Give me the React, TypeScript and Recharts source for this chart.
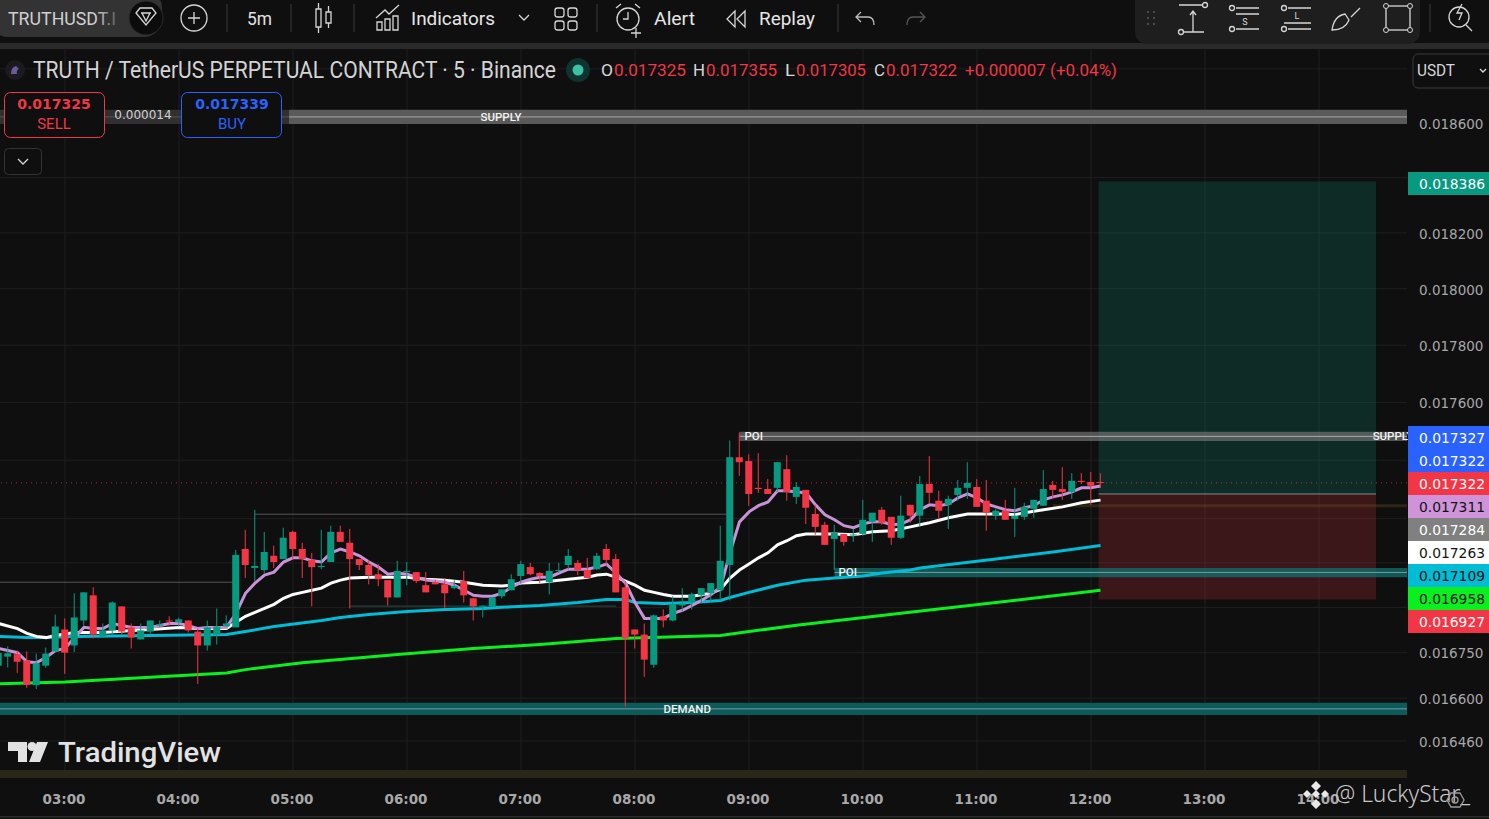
import React from "react";
import {
  ComposedChart, Bar, Line, XAxis, YAxis, CartesianGrid,
  ReferenceArea, ReferenceLine, ReferenceDot,
} from "recharts";

// All candle and average values are in millionths of a USDT.
const opens = [
  16707,16737,16745,16724,16643,16707,16754,
  16827,16774,16857,16941,16804,16824,16904,16834,16794,16820,
  16840,16857,16851,16857,16820,16774,16810,16837,16834,17097,
  17033,17026,17074,17063,17155,17097,17060,17036,17053,17155,
  17118,17063,17043,17012,16992,16934,17019,17019,16975,16985,
  16978,16965,16989,16931,16904,16904,16938,16958,17006,17036,
  17016,16985,17023,17043,17050,17026,17029,17097,17063,16968,
  16827,16810,16710,16871,16857,16907,16917,16941,16948,16958,
  17043,17410,17397,17305,17301,17305,17369,17274,17298,17216,
  17179,17131,17148,17144,17148,17189,17230,17206,17135,17247,
  17210,17318,17261,17247,17281,17305,17308,17261,17210,17227,
  17199,17206,17233,17244,17315,17301,17291,17329,17325,17325,
];
const highs = [
  16757,16771,16757,16754,16747,16767,16877,
  16864,16948,16951,16968,16847,16921,16904,16847,16847,16857,
  16857,16871,16867,16857,16830,16857,16897,16874,17094,17162,
  17230,17155,17108,17169,17159,17118,17084,17162,17176,17176,
  17165,17063,17060,17046,16992,17057,17053,17019,17019,16992,
  16999,16992,17023,16931,16907,16934,16961,17012,17057,17050,
  17019,17050,17050,17097,17060,17067,17084,17114,17080,16989,
  16827,16847,16877,16894,16938,16965,16951,16965,16982,17176,
  17468,17495,17420,17424,17335,17393,17417,17325,17298,17247,
  17189,17179,17148,17165,17264,17220,17240,17206,17278,17247,
  17346,17414,17295,17278,17332,17393,17335,17332,17233,17264,
  17305,17254,17264,17366,17329,17376,17356,17356,17359,17355,
];
const lows = [
  16704,16701,16683,16634,16630,16700,16752,
  16680,16752,16840,16797,16800,16810,16810,16764,16794,16810,
  16834,16840,16837,16817,16647,16757,16777,16837,16834,16999,
  16989,17016,17033,17063,17060,16999,16904,17029,17053,17121,
  16897,17026,16978,16972,16907,16934,16975,16982,16951,16978,
  16897,16961,16917,16857,16867,16904,16931,16958,16982,17009,
  16982,16944,17016,17029,17009,16999,17026,17040,16951,16573,
  16764,16670,16700,16834,16854,16887,16894,16914,16917,16924,
  16924,17346,17244,17288,17284,17291,17261,17250,17182,17145,
  17111,17026,17108,17121,17142,17121,17179,17111,17131,17186,
  17172,17250,17199,17165,17261,17267,17240,17159,17196,17196,
  17138,17196,17203,17244,17267,17264,17267,17318,17247,17305,
];
const closes = [
  16749,16748,16720,16643,16715,16747,16837,
  16750,16867,16951,16810,16824,16917,16820,16800,16824,16857,
  16844,16854,16861,16824,16774,16834,16837,16847,17077,17043,
  17040,17087,17053,17135,17097,17063,17036,17040,17155,17121,
  17063,17043,17009,16995,16934,17023,17023,16989,16951,16978,
  16948,16972,16941,16904,16906,16934,16961,16995,17046,17012,
  17006,17023,17026,17074,17026,16999,17074,17060,16951,16797,
  16810,16727,16874,16857,16911,16914,16944,16965,16982,17057,
  17410,17393,17284,17301,17284,17393,17291,17308,17237,17172,
  17111,17152,17121,17146,17196,17220,17186,17135,17210,17210,
  17318,17288,17227,17267,17305,17322,17240,17220,17227,17196,
  17210,17240,17264,17301,17298,17291,17329,17325,17312,17322,
];
const purpleValues = [
  16764,16757,16750,16720,16717,16734,16757,
  16764,16800,16834,16830,16830,16847,16840,16834,16834,16834,
  16840,16847,16847,16840,16830,16834,16834,16834,16881,16948,
  16982,17009,17019,17053,17067,17067,17057,17053,17084,17097,
  17087,17074,17053,17036,17012,17016,17012,17002,16992,16989,
  16985,16975,16958,16941,16938,16938,16948,16968,16985,16995,
  17002,17002,17016,17029,17029,17029,17036,17046,17016,16982,
  16917,16864,16864,16864,16881,16891,16907,16924,16944,16968,
  17084,17189,17223,17244,17257,17295,17295,17291,17288,17247,
  17213,17196,17176,17169,17182,17189,17189,17179,17182,17196,
  17230,17247,17244,17250,17271,17284,17271,17250,17240,17230,
  17227,17237,17244,17264,17274,17281,17291,17305,17305,17311,
];
const whiteBars = [-7,-5,-4,-3,-2,-1,1,4,7,9,12,14,17,18,19,20,21,22,23,24,25,26,27,28,29,30,32,34,36,38,40,42,44,46,47,48,50,52,53,55,56,57,58,59,60,61,62,63,64,66,68,69,70,71,72,73,74,75,76,77,78,79,81,83,85,87,89,90,91,93,95,97,99,100,101,103,105,107,109];
const whiteValues = [16847,16830,16814,16804,16800,16807,16817,16817,16824,16827,16834,16830,16830,16851,16871,16884,16897,16911,16931,16944,16951,16958,16965,16982,16992,16999,17002,17002,17002,16995,16992,16985,16975,16972,16975,16982,16985,16992,16995,17002,17009,17012,17002,16989,16975,16958,16951,16944,16938,16938,16948,16961,16999,17026,17046,17067,17084,17111,17125,17142,17148,17148,17148,17145,17155,17159,17172,17179,17186,17203,17216,17216,17216,17213,17220,17230,17240,17254,17263];
const blueBars = [-7,-4,-2,1,9,17,19,22,27,29,32,36,40,44,46,50,54,57,59,60,63,66,69,70,72,75,78,81,84,86,89,90,98,104,109];
const blueValues = [16804,16800,16800,16804,16807,16810,16820,16837,16857,16867,16877,16887,16894,16897,16901,16907,16917,16927,16927,16917,16914,16917,16924,16934,16951,16975,16992,16999,17006,17016,17026,17033,17063,17087,17109];
const greenBars = [-7,0,17,19,25,35,43,50,58,69,72,77,88,98,109];
const greenValues = [16647,16653,16683,16694,16717,16744,16764,16777,16797,16807,16820,16841,16881,16917,16958];

const firstBar = -7;
const timeTickBars = [0,12,24,36,48,60,72,84,96,108,120,132];
const timeLabels = ["03:00","04:00","05:00","06:00","07:00","08:00","09:00","10:00","11:00","12:00","13:00","14:00"];
const priceTicks = [0.0188,0.0186,0.0184,0.0182,0.018,0.0178,0.0176,0.0174,0.0172,0.01705,0.0169,0.01675,0.0166,0.01646];
const visiblePriceLabels = [0.0186,0.0182,0.018,0.0178,0.0176,0.01675,0.0166,0.01646];

const pick = (bars: number[], values: number[], n: number) => {
  const i = bars.indexOf(n);
  return i < 0 ? null : values[i] / 1e6;
};
const table = opens.map((o, i) => {
  const n = firstBar + i;
  return {
    n,
    open: o / 1e6,
    high: highs[i] / 1e6,
    low: lows[i] / 1e6,
    close: closes[i] / 1e6,
    purple: purpleValues[i] / 1e6,
    white: pick(whiteBars, whiteValues, n),
    blue: pick(blueBars, blueValues, n),
    green: pick(greenBars, greenValues, n),
  };
});

const UP = "#089981";
const DOWN = "#f23645";
const BG = "#0f0f0f";
const TICK_FONT = "'DejaVu Sans', sans-serif";
const UI_FONT = "Roboto, sans-serif";

const Candle = (p: any) => {
  const { x, y, width, height, payload } = p;
  if (!payload) return null;
  const top = Math.min(y, y + height);
  const h = Math.abs(height);
  const span = Math.log(payload.high / payload.low);
  const yOf = (v: number) => top + (h * Math.log(payload.high / v)) / span;
  const color = payload.close >= payload.open ? UP : DOWN;
  const bodyTop = yOf(Math.max(payload.open, payload.close));
  const bodyBottom = yOf(Math.min(payload.open, payload.close));
  const cx = x + width / 2;
  return (
    <g>
      <rect x={cx - 0.5} y={top} width={1} height={h} fill={color} />
      <rect x={cx - 3.5} y={bodyTop} width={7} height={Math.max(1, bodyBottom - bodyTop)} fill={color} />
    </g>
  );
};

const zoneLabel = (value: string) => ({
  value,
  position: "center" as const,
  fill: "#f2f2f2",
  fontSize: 11.5,
  fontFamily: UI_FONT,
  fontWeight: 500,
});

const Txt = (p: any) => {
  const { x, y, w, size = 18, fill = "#d8d8d8", weight = 400, font = UI_FONT, anchor = "start", children } = p;
  return (
    <text x={x} y={y} fontSize={size} fill={fill} fontWeight={weight} fontFamily={font} textAnchor={anchor}
      textLength={w} lengthAdjust={w ? "spacingAndGlyphs" : undefined}>
      {children}
    </text>
  );
};

const priceLabels = [
  { y: 426, text: "0.017327", bg: "#2962ff", fg: "#ffffff" },
  { y: 449, text: "0.017322", bg: "#2962ff", fg: "#ffffff" },
  { y: 472, text: "0.017322", bg: "#f23645", fg: "#ffffff" },
  { y: 495, text: "0.017311", bg: "#ce93d8", fg: "#131313" },
  { y: 518, text: "0.017284", bg: "#808080", fg: "#ffffff" },
  { y: 541, text: "0.017263", bg: "#ffffff", fg: "#131313" },
  { y: 564, text: "0.017109", bg: "#00bcd4", fg: "#131313" },
  { y: 587, text: "0.016958", bg: "#0af01e", fg: "#131313" },
  { y: 610, text: "0.016927", bg: "#f23645", fg: "#ffffff" },
  { y: 172, text: "0.018386", bg: "#089981", fg: "#ffffff" },
];

const S = { fill: "none", stroke: "#d6d6d6", strokeWidth: 1.3 };

const Overlay = () => (
  <svg width={1489} height={819} style={{ position: "absolute", left: 0, top: 0, pointerEvents: "none" }}>
    <defs>
      <linearGradient id="pillFade" x1="0" x2="1" y1="0" y2="0">
        <stop offset="0" stopColor="#333333" stopOpacity={0} />
        <stop offset="1" stopColor="#333333" stopOpacity={1} />
      </linearGradient>
    </defs>
    {/* toolbar */}
    <rect x={0} y={0} width={1489} height={43} fill={BG} />
    <rect x={0} y={43} width={1489} height={6} fill="#2a2a2a" />
    <rect x={-10} y={-10} width={172} height={47} rx={18} fill="#333333" />
    <Txt x={8} y={25} w={108} size={18} fill="#cfcfcf" weight={400}>TRUTHUSDT.I</Txt>
    <rect x={96} y={4} width={28} height={28} fill="url(#pillFade)" />
    <circle cx={146} cy={18} r={17} fill="#0c0c0c" stroke="#2c2c2c" />
    <path d="M136 13 l4 -5 h12 l4 5 l-10 12 z M141 13 h10 M142 13 l4 8 l4 -8" {...S} />
    <circle cx={194} cy={18} r={13} {...S} />
    <path d="M194 12 v12 M188 18 h12" {...S} />
    <path d="M227 4 v28 M291 4 v28 M354 4 v28 M597 4 v28 M838 4 v28 M1430 4 v28" stroke="#3a3a3a" strokeWidth={1} />
    <Txt x={247} y={25} w={25} size={18} fill="#e0e0e0">5m</Txt>
    <path d="M316 9 h5 v18 h-5 z M318.5 3 v6 M318.5 27 v6 M326 12 h5 v11 h-5 z M328.5 6 v6 M328.5 23 v5" {...S} />
    <path d="M377 30 v-8 h5 v8 z M385 30 v-11 h5 v11 z M393 30 v-14 h5 v14 z M376 18 l9 -8 l4 4 l10 -9" {...S} />
    <Txt x={411} y={25} w={84} size={18.5} fill="#e6e6e6">Indicators</Txt>
    <path d="M519 15 l5 5 l5 -5" {...S} />
    <rect x={555} y={8} width={9} height={9} rx={2.5} {...S} />
    <rect x={568} y={8} width={9} height={9} rx={2.5} {...S} />
    <rect x={555} y={21} width={9} height={9} rx={2.5} {...S} />
    <rect x={568} y={21} width={9} height={9} rx={2.5} {...S} />
    <circle cx={628} cy={19} r={11} {...S} />
    <path d="M628 12 v7 h-5 M616 8 l5 -4 M640 8 l-5 -4 M636 28 v10 M631 33 h10" {...S} />
    <Txt x={654} y={25} w={41} size={18.5} fill="#e6e6e6">Alert</Txt>
    <path d="M735 11 l-8 8 l8 8 z M745 11 l-8 8 l8 8 z" {...S} />
    <Txt x={759} y={25} w={56} size={18.5} fill="#e6e6e6">Replay</Txt>
    <path d="M861 12 l-5 5 l5 5 M856 17 h12 q6 0 6 8" {...S} stroke="#bdbdbd" />
    <path d="M920 12 l5 5 l-5 5 M925 17 h-12 q-6 0 -6 8" {...S} stroke="#555555" />
    {/* floating tools */}
    <rect x={1135} y={-12} width={285} height={56} rx={12} fill="#1e1e1e" />
    <path d="M1147 12 h2 M1153 12 h2 M1147 18 h2 M1153 18 h2 M1147 24 h2 M1153 24 h2" stroke="#4a4a4a" strokeWidth={2} />
    <path d="M1179 5 h24 M1183 32 h21 M1193 11 v21 M1190 15 l3 -4 l3 4" {...S} />
    <circle cx={1205} cy={5} r={2.5} {...S} /><circle cx={1181} cy={32} r={2.5} {...S} />
    <path d="M1236 8 h23 M1236 14 h23 M1236 29 h23" {...S} /><circle cx={1232} cy={8} r={2.5} {...S} /><circle cx={1232} cy={29} r={2.5} {...S} />
    <Txt x={1245} y={25} size={9} anchor="middle">S</Txt>
    <path d="M1288 8 h23 M1284 23 h27 M1288 29 h23" {...S} /><circle cx={1284} cy={8} r={2.5} {...S} /><circle cx={1284} cy={29} r={2.5} {...S} />
    <Txt x={1297} y={19} size={9} anchor="middle">L</Txt>
    <path d="M1332 30 q2 -14 13 -16 l4 6 q-4 10 -17 10 z M1351 17 l9 -9" {...S} />
    <rect x={1386} y={6} width={24} height={24} {...S} />
    <circle cx={1386} cy={6} r={2.5} fill="#1e1e1e" stroke="#d6d6d6" /><circle cx={1410} cy={6} r={2.5} fill="#1e1e1e" stroke="#d6d6d6" />
    <circle cx={1386} cy={30} r={2.5} fill="#1e1e1e" stroke="#d6d6d6" /><circle cx={1410} cy={30} r={2.5} fill="#1e1e1e" stroke="#d6d6d6" />
    <circle cx={1459} cy={17} r={10} {...S} />
    <path d="M1466 25 l6 6 M1462 4 l-5 9 h5 l-3 7" {...S} />

    {/* legend */}
    <circle cx={15} cy={70} r={10} fill="#1b1b1f" />
    <path d="M11 74 q0 -7 5 -8 l3 3 q-3 1 -2 5 z" fill="#6a5a9a" />
    <Txt x={33} y={78} w={523} size={23} fill="#d4d4d4">TRUTH / TetherUS PERPETUAL CONTRACT · 5 · Binance</Txt>
    <circle cx={578} cy={70} r={12} fill="#0f3330" />
    <circle cx={578} cy={70} r={5.5} fill="#3cc0a8" />
    <Txt x={601} y={76} w={12} size={17} fill="#d8d8d8">O</Txt>
    <Txt x={614} y={76} w={72} size={17} fill={DOWN}>0.017325</Txt>
    <Txt x={693} y={76} w={12} size={17} fill="#d8d8d8">H</Txt>
    <Txt x={706} y={76} w={71} size={17} fill={DOWN}>0.017355</Txt>
    <Txt x={785} y={76} w={10} size={17} fill="#d8d8d8">L</Txt>
    <Txt x={796} y={76} w={70} size={17} fill={DOWN}>0.017305</Txt>
    <Txt x={874} y={76} w={11} size={17} fill="#d8d8d8">C</Txt>
    <Txt x={886} y={76} w={71} size={17} fill={DOWN}>0.017322</Txt>
    <Txt x={965} y={76} w={152} size={17} fill={DOWN}>+0.000007 (+0.04%)</Txt>

    {/* order buttons */}
    <rect x={0} y={108} width={289} height={17} fill={BG} opacity={0.55} />
    <rect x={4.5} y={92.5} width={100} height={45} rx={6} fill={BG} stroke={DOWN} />
    <rect x={181.5} y={92.5} width={100} height={45} rx={6} fill={BG} stroke="#2962ff" />
    <Txt x={54} y={109} size={14} fill={DOWN} weight={700} font={TICK_FONT} anchor="middle">0.017325</Txt>
    <Txt x={54} y={129} size={15} fill={DOWN} anchor="middle">SELL</Txt>
    <Txt x={232} y={109} size={14} fill="#2962ff" weight={700} font={TICK_FONT} anchor="middle">0.017339</Txt>
    <Txt x={232} y={129} size={15} fill="#2962ff" anchor="middle">BUY</Txt>
    <Txt x={143} y={119} size={12} fill="#d0d0d0" font={TICK_FONT} anchor="middle">0.000014</Txt>
    <rect x={4.5} y={148.5} width={37} height={26} rx={4} fill={BG} stroke="#333333" />
    <path d="M18 159 l5 5 l5 -5" {...S} />

    {/* currency box */}
    <rect x={1408} y={50} width={81} height={40} fill={BG} />
    <path d="M1489 54 h-71 a5 5 0 0 0 -5 5 v24 a5 5 0 0 0 5 5 h71" fill={BG} stroke="#3a3a3a" />
    <Txt x={1417} y={76} w={38} size={16} fill="#d8d8d8">USDT</Txt>
    <path d="M1480 69 l3 3 l3 -3" {...S} />

    {/* price labels */}
    {priceLabels.map((l, i) => (
      <g key={i}>
        <rect x={1408} y={l.y} width={81} height={23} fill={l.bg} />
        <Txt x={1419} y={l.y + 17} size={14} fill={l.fg} font={TICK_FONT} weight={500} w={66}>{l.text}</Txt>
      </g>
    ))}

    {/* watermark */}
    <path d="M8 742 h19 v20 h-9 v-11 h-10 z" fill="#e2e2e2" />
    <circle cx={32} cy={746.5} r={4.5} fill="#e2e2e2" />
    <path d="M37 742 h11 l-8 20 h-11 z" fill="#e2e2e2" />
    <Txt x={58} y={762} w={163} size={28} fill="#e2e2e2" weight={500}>TradingView</Txt>

    {/* credit */}
    <path d="M1316 781 l5 5 l-5 5 l-5 -5 z M1307 790 l4 4 l-4 4 l-4 -4 z M1325 790 l4 4 l-4 4 l-4 -4 z M1316 790 l4 4 l-4 4 l-4 -4 z M1316 799 l5 5 l-5 5 l-5 -5 z" fill="#e8e8e8" />
    <Txt x={1335} y={802} w={135} size={24} fill="#c9c9c9" font="'Noto Sans', sans-serif" weight={300}>@ LuckyStar_</Txt>
    <path d="M1447 800 l4 -7 h9 l4 7 l-4 7 h-9 z" {...S} stroke="#9a9a9a" />
    <circle cx={1455} cy={800} r={3} {...S} stroke="#9a9a9a" />
    <rect x={0} y={816} width={1489} height={1.5} fill="#2a2a2a" />
  </svg>
);

export default function App() {
  return (
    <div style={{ position: "absolute", left: 0, top: 0, width: 1489, height: 819, background: BG, overflow: "hidden" }}>
      <ComposedChart width={1489} height={819} data={table} margin={{ top: 46, right: 0, bottom: 0, left: 0 }} barSize={7}>
        <CartesianGrid stroke="#1f1f1f" strokeWidth={1} syncWithTicks />
        <XAxis
          dataKey="n" type="number" domain={[-6.84, 141.26]} allowDataOverflow
          ticks={timeTickBars} interval={0} height={41} tickLine={false} axisLine={false} tickMargin={10}
          tick={{ fill: "#a8a8a8", fontSize: 13.5, fontWeight: 700, fontFamily: TICK_FONT, dx: -1 }}
          tickFormatter={(v: number) => timeLabels[timeTickBars.indexOf(v)]}
        />
        <YAxis
          orientation="right" width={82} scale="log" type="number" domain={[0.01634, 0.018885]} allowDataOverflow
          ticks={priceTicks} interval={0} tickLine={false} axisLine={false} tickMargin={12} tickSize={0}
          tick={{ fill: "#a8a8a8", fontSize: 13.5, fontFamily: TICK_FONT, textAnchor: "start", dy: 1 }}
          tickFormatter={(v: number) => (visiblePriceLabels.includes(v) ? v.toFixed(6) : "")}
        />

        <ReferenceArea x1={108.8} x2={138} y1={0.018386} y2={0.017284} fill={UP} fillOpacity={0.2} stroke="none" />
        <ReferenceArea x1={108.8} x2={138} y1={0.017284} y2={0.016927} fill={DOWN} fillOpacity={0.2} stroke="none" />
        <ReferenceLine segment={[{ x: 108.8, y: 0.017284 }, { x: 138, y: 0.017284 }]} stroke="#8a8a8a" />
        <ReferenceArea x1={104} x2={141.26} y1={0.017249} y2={0.017239} fill="#6a5020" fillOpacity={0.35} stroke="none" />

        <ReferenceArea x1={-6.84} x2={141.26} y1={0.018648} y2={0.018596} fill="#5a5a5a" fillOpacity={1} stroke="none" />
        <ReferenceLine y={0.018622} stroke="#a8a8a8" />
        <ReferenceDot x={45.9} y={0.018622} r={0} fill="none" stroke="none" label={zoneLabel("SUPPLY")} />

        <ReferenceArea x1={71} x2={141.26} y1={0.017498} y2={0.017466} fill="#787878" fillOpacity={0.65} stroke="none" />
        <ReferenceLine segment={[{ x: 71, y: 0.017482 }, { x: 141.26, y: 0.017482 }]} stroke="#a8a8a8" />
        <ReferenceDot x={72.5} y={0.017482} r={0} fill="none" stroke="none" label={zoneLabel("POI")} />
        <ReferenceDot x={139.8} y={0.017482} r={0} fill="none" stroke="none" label={zoneLabel("SUPPLY")} />

        <ReferenceArea x1={81} x2={141.26} y1={0.017033} y2={0.017002} fill="#12706e" fillOpacity={0.75} stroke="none" />
        <ReferenceLine segment={[{ x: 81, y: 0.017018 }, { x: 141.26, y: 0.017018 }]} stroke="#6f9f9f" />
        <ReferenceDot x={82.4} y={0.017018} r={0} fill="none" stroke="none" label={zoneLabel("POI")} />

        <ReferenceArea x1={-6.84} x2={141.26} y1={0.016585} y2={0.016545} fill="#0e5a5a" fillOpacity={1} stroke="none" />
        <ReferenceLine y={0.016565} stroke="#6f9f9f" />
        <ReferenceDot x={65.5} y={0.016565} r={0} fill="none" stroke="none" label={zoneLabel("DEMAND")} />

        <ReferenceArea x1={-6.84} x2={141.26} y1={0.016366} y2={0.01634} fill="#2a2618" fillOpacity={1} stroke="none" />

        <ReferenceLine segment={[{ x: -6.84, y: 0.016985 }, { x: 18, y: 0.016985 }]} stroke="#555555" />
        <ReferenceLine segment={[{ x: 20, y: 0.017215 }, { x: 70, y: 0.017215 }]} stroke="#555555" />
        <ReferenceLine segment={[{ x: 30, y: 0.016905 }, { x: 58, y: 0.016905 }]} stroke="#2d4a4a" />

        <ReferenceLine y={0.017322} stroke={DOWN} strokeOpacity={0.7} strokeDasharray="1 4" />

        <Line dataKey="green" stroke="#0af01e" strokeWidth={3} dot={false} connectNulls isAnimationActive={false} />
        <Line dataKey="blue" stroke="#00bcd4" strokeWidth={3} dot={false} connectNulls isAnimationActive={false} />
        <Line dataKey="white" stroke="#ffffff" strokeWidth={3} dot={false} connectNulls isAnimationActive={false} />
        <Line dataKey="purple" stroke="#c792d6" strokeWidth={3} dot={false} connectNulls isAnimationActive={false} />
        <Bar dataKey={(d: any) => [d.low, d.high]} shape={Candle} zIndex={500} isAnimationActive={false} />
      </ComposedChart>
      <Overlay />
    </div>
  );
}
